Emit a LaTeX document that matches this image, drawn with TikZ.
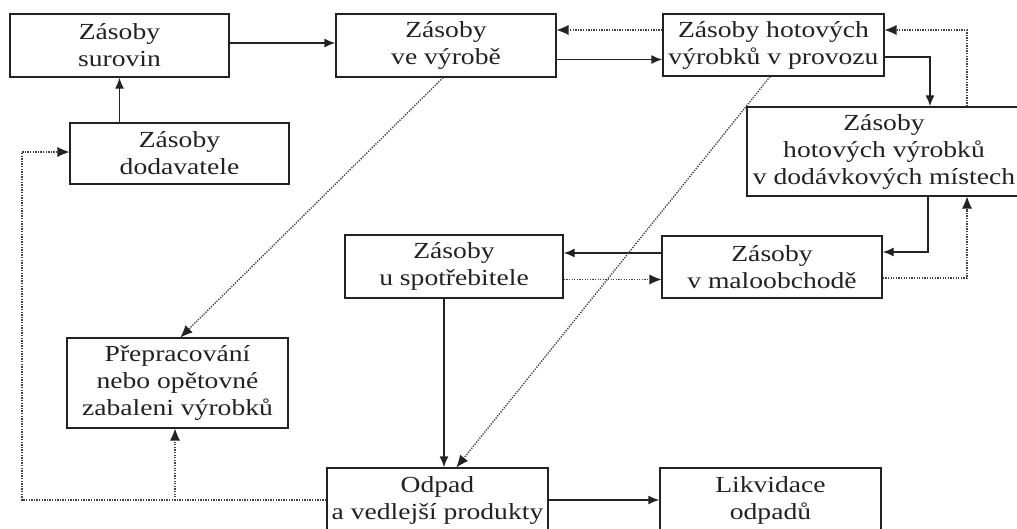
\documentclass[tikz,border=0pt]{standalone}
\usepackage{fontspec}
\setmainfont{Liberation Serif}[FakeStretch=1.2]
\usetikzlibrary{arrows.meta}
\definecolor{ink}{HTML}{222222}
\definecolor{dotink}{HTML}{444444}
\begin{document}
\begin{tikzpicture}[x=1pt,y=-1pt,
  box/.style={draw=ink, line width=1.4pt, align=center, inner sep=0pt,
    text=ink, font=\fontsize{23}{27}\selectfont},
  flow/.style={draw=ink, line width=1.4pt, -{Latex[length=11pt,width=9pt]}},
  back/.style={draw=dotink, line width=1.4pt, dash pattern=on 1.3pt off 1.3pt,
    -{Latex[length=12pt,width=10pt,line width=0pt,fill=ink,color=ink]}}]
\clip (0,0) rectangle (1017,528);
\fill[white] (0,0) rectangle (1017,528);

% stock nodes
\node[box, minimum width=219pt, minimum height=63pt] (sur)  at (119.5,45.5) {Zásoby\\surovin};
\node[box, minimum width=220pt, minimum height=63pt] (vyr)  at (446,45.5)   {Zásoby\\ve výrobě};
\node[box, minimum width=221pt, minimum height=62pt] (prov) at (773.5,45)   {Zásoby hotových\\výrobků v provozu};
\node[box, minimum width=274pt, minimum height=89pt] (hot)  at (884,151.5)  {Zásoby\\hotových výrobků\\v dodávkových místech};
\node[box, minimum width=219pt, minimum height=61pt] (dod)  at (179.5,153.5) {Zásoby\\dodavatele};
\node[box, minimum width=218pt, minimum height=63pt] (spot) at (454,266.5)  {Zásoby\\u spotřebitele};
\node[box, minimum width=220pt, minimum height=62pt] (malo) at (772,267)    {Zásoby\\v maloobchodě};
\node[box, minimum width=221pt, minimum height=90pt] (prep) at (177.5,383)  {Přepracování\\nebo opětovné\\zabaleni výrobků};
\node[box, minimum width=221pt, minimum height=64pt] (odp)  at (437.5,500)  {Odpad\\a vedlejší produkty};
\node[box, minimum width=221pt, minimum height=64pt] (likv) at (770.5,500)  {Likvidace\\odpadů};

% main material flow
\draw[flow] ([yshift=2.5pt]sur.east) -- ([yshift=2.5pt]vyr.west);
\draw[flow] (dod.north -| sur) -- (sur.south);
\draw[flow] ([yshift=-14pt]vyr.east) -- ([yshift=-14pt]vyr.east -| prov.west);
\draw[flow] ([yshift=-12pt]prov.east) -| ([xshift=46pt]hot.north);
\draw[flow] ([xshift=44pt]hot.south) |- ([yshift=15pt]malo.east);
\draw[flow] ([yshift=14pt]malo.west) -- ([yshift=14pt]malo.west -| spot.east);
\draw[flow] ([xshift=-10pt]spot.south) -- ([xshift=-10pt]spot.south |- odp.north);
\draw[flow] (odp.east) -- (likv.west);

% return flows
\draw[back] ([yshift=15pt]prov.west) -- ([yshift=15pt]prov.west -| vyr.east);
\draw[back] ([xshift=83pt]hot.north) |- ([yshift=15pt]prov.east);
\draw[back] ([yshift=-11pt]malo.east) -| ([xshift=83pt]hot.south);
\draw[back] ([yshift=-13pt]spot.east) -- ([yshift=-13pt]spot.east -| malo.west);
\draw[back] ([xshift=-3.5pt]prov.south) -- ([xshift=19pt]odp.north);
\draw[back] ([xshift=-3pt]vyr.south) -- ([xshift=3pt]prep.north);
\coordinate (lc) at (22,500);
\draw[back] (odp.west) -- (lc) |- ([yshift=1.5pt]dod.west);
\draw[back] ([xshift=-2.5pt]prep.south |- odp.west) -- ([xshift=-2.5pt]prep.south);
\end{tikzpicture}
\end{document}
